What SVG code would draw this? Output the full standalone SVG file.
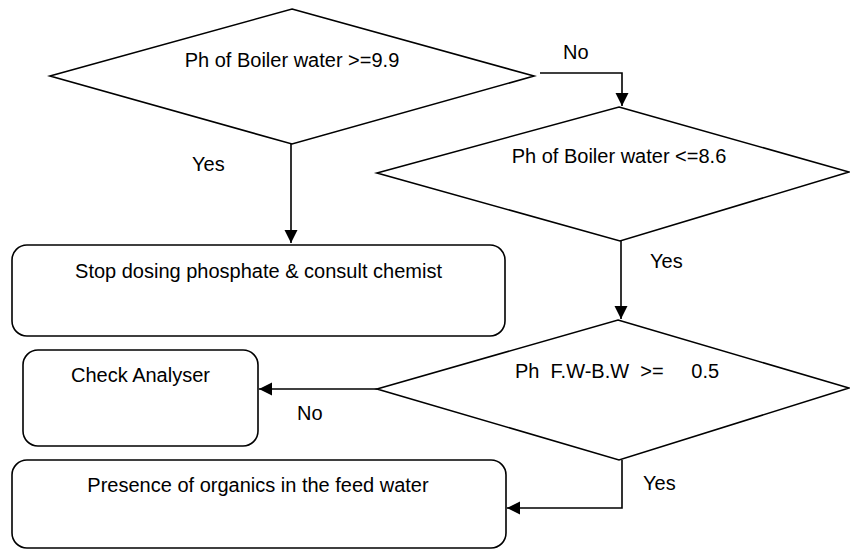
<svg xmlns="http://www.w3.org/2000/svg" width="850" height="550" viewBox="0 0 850 550">
  <style>
    .shape { fill: #ffffff; stroke: #000000; stroke-width: 1.6; }
    .conn { fill: none; stroke: #000000; stroke-width: 1.6; }
    text { font-family: "Liberation Sans", Arial, sans-serif; font-size: 20px; fill: #000000; }
    .mid { text-anchor: middle; }
  </style>
  <defs>
    <marker id="arrow" markerUnits="userSpaceOnUse" markerWidth="14" markerHeight="14" refX="13" refY="6.5" orient="auto">
      <path d="M0,0 L13,6.5 L0,13 Z" fill="#000000"/>
    </marker>
  </defs>
  <rect width="850" height="550" fill="#ffffff"/>

  <!-- decision: high pH -->
  <g id="decision-ph-high">
    <polygon class="shape" points="292,9 534,76 292,144 50,76"/>
    <text class="mid" x="292" y="67">Ph of Boiler water &gt;=9.9</text>
  </g>

  <!-- decision: low pH -->
  <g id="decision-ph-low">
    <polygon class="shape" points="619,107 849,172 620,241 377,173"/>
    <text class="mid" x="619" y="163">Ph of Boiler water &lt;=8.6</text>
  </g>

  <!-- decision: feed water vs boiler water difference -->
  <g id="decision-fw-bw">
    <polygon class="shape" points="618,320 849,388 619,460 377,389"/>
    <text x="515" y="378" xml:space="preserve">Ph  F.W-B.W  &gt;=     0.5</text>
  </g>

  <!-- action boxes -->
  <g id="box-stop-dosing">
    <rect class="shape" x="12" y="245" width="493" height="91" rx="15" ry="15"/>
    <text class="mid" x="258.5" y="278">Stop dosing phosphate &amp; consult chemist</text>
  </g>

  <g id="box-check-analyser">
    <rect class="shape" x="23" y="350" width="235" height="96" rx="15" ry="15"/>
    <text class="mid" x="140.5" y="382">Check Analyser</text>
  </g>

  <g id="box-organics">
    <rect class="shape" x="12" y="460" width="494" height="88" rx="15" ry="15"/>
    <text class="mid" x="258" y="492">Presence of organics in the feed water</text>
  </g>

  <!-- connectors -->
  <g id="connectors">
    <path class="conn" d="M540,73 H622 V106" marker-end="url(#arrow)"/>
    <path class="conn" d="M291,144 V243" marker-end="url(#arrow)"/>
    <path class="conn" d="M621,241 V319" marker-end="url(#arrow)"/>
    <path class="conn" d="M377,389 H259" marker-end="url(#arrow)"/>
    <path class="conn" d="M622,460 V508 H507" marker-end="url(#arrow)"/>
  </g>

  <!-- branch labels -->
  <g id="labels">
    <text x="563" y="59">No</text>
    <text x="192" y="171">Yes</text>
    <text x="650" y="268">Yes</text>
    <text x="297" y="420">No</text>
    <text x="643" y="490">Yes</text>
  </g>
</svg>
